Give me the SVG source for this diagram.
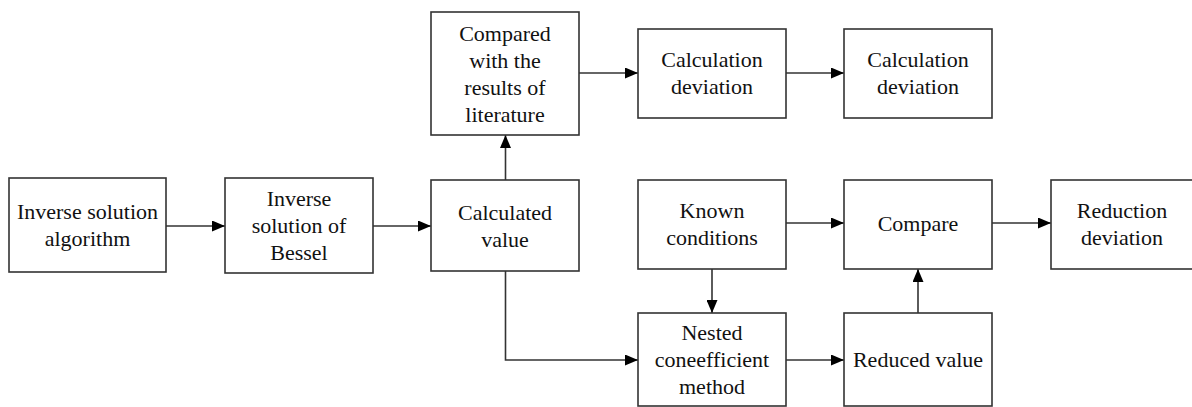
<svg xmlns="http://www.w3.org/2000/svg" width="1192" height="407" viewBox="0 0 1192 407">
<style>
.box{fill:#fff;stroke:#333;stroke-width:1.6}
.t{font-family:'Liberation Serif','Times New Roman',serif;font-size:22px;fill:#111;text-anchor:middle}
.c{fill:none;stroke:#333;stroke-width:1.6}
</style>
<defs>
<marker id="ah" viewBox="0 0 13 11" refX="13" refY="5.5" markerWidth="13" markerHeight="11" markerUnits="userSpaceOnUse" orient="auto">
<path d="M0,0 L13,5.5 L0,11 Z" fill="#000"/>
</marker>
</defs>
<rect width="1192" height="407" fill="#fff"/>
<g id="connectors">
<line class="c" x1="166" y1="226" x2="225" y2="226" marker-end="url(#ah)"/>
<line class="c" x1="373" y1="226" x2="431" y2="226" marker-end="url(#ah)"/>
<line class="c" x1="505.5" y1="180" x2="505.5" y2="135" marker-end="url(#ah)"/>
<line class="c" x1="579" y1="73" x2="638" y2="73" marker-end="url(#ah)"/>
<line class="c" x1="786" y1="73" x2="844" y2="73" marker-end="url(#ah)"/>
<polyline class="c" points="505.5,271 505.5,360 638,360" marker-end="url(#ah)"/>
<line class="c" x1="786" y1="223" x2="844" y2="223" marker-end="url(#ah)"/>
<line class="c" x1="992" y1="223" x2="1051" y2="223" marker-end="url(#ah)"/>
<line class="c" x1="712" y1="269" x2="712" y2="313" marker-end="url(#ah)"/>
<line class="c" x1="786" y1="360" x2="844" y2="360" marker-end="url(#ah)"/>
<line class="c" x1="918" y1="313" x2="918" y2="269" marker-end="url(#ah)"/>
</g>
<g id="n-inverse-algorithm">
<rect class="box" x="9" y="178" width="157" height="94"/>
<text class="t" x="87.5" y="219">Inverse solution</text>
<text class="t" x="87.5" y="246">algorithm</text>
</g>
<g id="n-inverse-bessel">
<rect class="box" x="225" y="178" width="148" height="95"/>
<text class="t" x="299" y="205.5">Inverse</text>
<text class="t" x="299" y="232.5">solution of</text>
<text class="t" x="299" y="259.5">Bessel</text>
</g>
<g id="n-calculated">
<rect class="box" x="431" y="180" width="148" height="91"/>
<text class="t" x="505" y="219.5">Calculated</text>
<text class="t" x="505" y="246.5">value</text>
</g>
<g id="n-compared">
<rect class="box" x="431" y="12" width="148" height="123"/>
<text class="t" x="505" y="40.5">Compared</text>
<text class="t" x="505" y="67.5">with the</text>
<text class="t" x="505" y="94.5">results of</text>
<text class="t" x="505" y="121.5">literature</text>
</g>
<g id="n-calc-dev-1">
<rect class="box" x="638" y="29" width="148" height="89"/>
<text class="t" x="712" y="66.5">Calculation</text>
<text class="t" x="712" y="93.5">deviation</text>
</g>
<g id="n-calc-dev-2">
<rect class="box" x="844" y="29" width="148" height="89"/>
<text class="t" x="918" y="66.5">Calculation</text>
<text class="t" x="918" y="93.5">deviation</text>
</g>
<g id="n-known">
<rect class="box" x="638" y="180" width="148" height="89"/>
<text class="t" x="712" y="217.5">Known</text>
<text class="t" x="712" y="244.5">conditions</text>
</g>
<g id="n-compare">
<rect class="box" x="844" y="180" width="148" height="89"/>
<text class="t" x="918" y="230.5">Compare</text>
</g>
<g id="n-reduction">
<rect class="box" x="1051" y="180" width="148" height="89"/>
<text class="t" x="1122" y="217.5">Reduction</text>
<text class="t" x="1122" y="244.5">deviation</text>
</g>
<g id="n-nested">
<rect class="box" x="638" y="313" width="148" height="93"/>
<text class="t" x="712" y="339.5">Nested</text>
<text class="t" x="712" y="366.5">coneefficient</text>
<text class="t" x="712" y="393.5">method</text>
</g>
<g id="n-reduced">
<rect class="box" x="844" y="313" width="148" height="93"/>
<text class="t" x="918" y="366.5">Reduced value</text>
</g>
</svg>
